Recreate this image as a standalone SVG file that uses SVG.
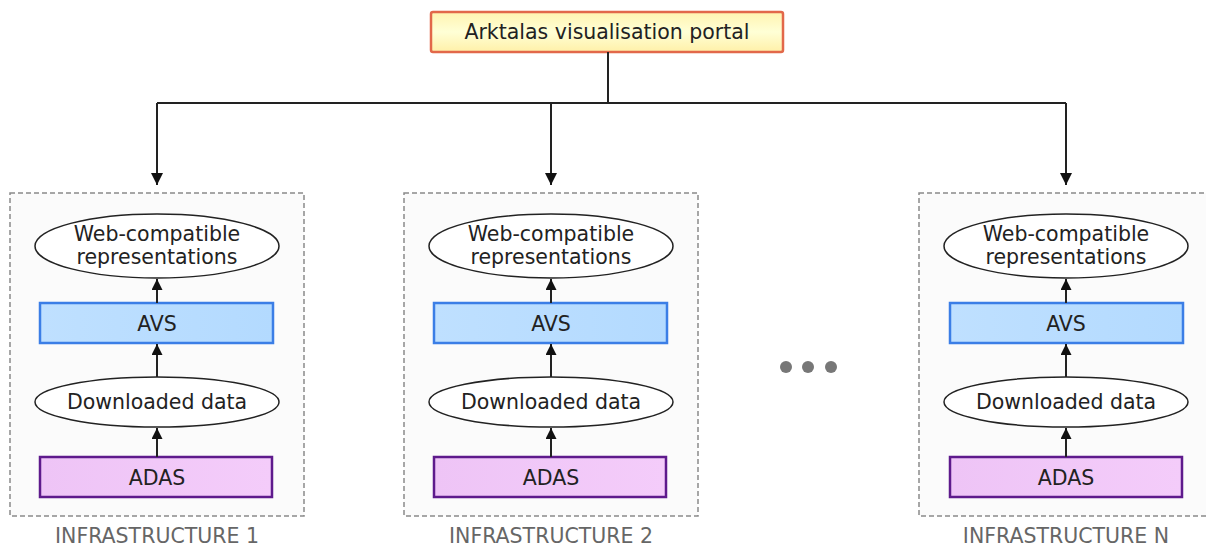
<svg xmlns="http://www.w3.org/2000/svg" width="1206" height="546" viewBox="0 0 1206 546">
<style>
text{font-family:"DejaVu Sans","Liberation Sans",sans-serif;font-size:20.5px;fill:#222;text-anchor:middle}
.panel{fill:#fbfbfb;stroke:#8a8a8a;stroke-width:1.5;stroke-dasharray:5,3}
.ell{fill:#fff;stroke:#222;stroke-width:1.5}
.avs{fill:url(#gAvs);stroke:#3b7ee6;stroke-width:2.5}
.adas{fill:url(#gAdas);stroke:#5e1a8c;stroke-width:2.5}
.cap{fill:#666;font-size:20.5px}
.con{fill:none;stroke:#222;stroke-width:2}
.dot{fill:#777}
</style>
<defs>
<linearGradient id="gPortal" x1="0" y1="0" x2="0" y2="1">
<stop offset="0" stop-color="#fff4b0"/><stop offset="0.5" stop-color="#ffffd6"/><stop offset="1" stop-color="#fff0a8"/>
</linearGradient>
<linearGradient id="gAvs" x1="0" y1="0" x2="1" y2="0">
<stop offset="0" stop-color="#bfe0ff"/><stop offset="1" stop-color="#b3daff"/>
</linearGradient>
<linearGradient id="gAdas" x1="0" y1="0" x2="1" y2="0">
<stop offset="0" stop-color="#eec4f6"/><stop offset="1" stop-color="#f4ccfa"/>
</linearGradient>
<marker id="ah" viewBox="0 0 10 10" refX="10" refY="5" markerWidth="5.5" markerHeight="5.5" orient="auto" markerUnits="strokeWidth">
<path d="M0,0 L10,5 L0,10 z" fill="#111"/>
</marker>
<marker id="ahs" viewBox="0 0 10 10" refX="10" refY="5" markerWidth="6" markerHeight="6" orient="auto" markerUnits="strokeWidth">
<path d="M0,0 L10,5 L0,10 z" fill="#111"/>
</marker>
</defs>

<g id="portal">
<rect x="431" y="12" width="352" height="40" rx="2" fill="url(#gPortal)" stroke="#e2684a" stroke-width="2.5"/>
<text x="607" y="39">Arktalas visualisation portal</text>
</g>

<g id="infra1">
<rect class="panel" x="10" y="193" width="294" height="323"/>
<ellipse class="ell" cx="157" cy="246" rx="122" ry="32"/>
<text x="157" y="241">Web-compatible</text>
<text x="157" y="264">representations</text>
<rect class="avs" x="40" y="303" width="233" height="40"/>
<text x="157" y="331">AVS</text>
<ellipse class="ell" cx="157" cy="402" rx="122" ry="25"/>
<text x="157" y="409">Downloaded data</text>
<rect class="adas" x="40" y="457" width="232" height="40"/>
<text x="157" y="485">ADAS</text>
<text class="cap" x="157" y="543">INFRASTRUCTURE 1</text>
</g>

<g id="infra2">
<rect class="panel" x="404" y="193" width="294" height="323"/>
<ellipse class="ell" cx="551" cy="246" rx="122" ry="32"/>
<text x="551" y="241">Web-compatible</text>
<text x="551" y="264">representations</text>
<rect class="avs" x="434" y="303" width="233" height="40"/>
<text x="551" y="331">AVS</text>
<ellipse class="ell" cx="551" cy="402" rx="122" ry="25"/>
<text x="551" y="409">Downloaded data</text>
<rect class="adas" x="434" y="457" width="232" height="40"/>
<text x="551" y="485">ADAS</text>
<text class="cap" x="551" y="543">INFRASTRUCTURE 2</text>
</g>

<g id="infraN">
<rect class="panel" x="919" y="193" width="294" height="323"/>
<ellipse class="ell" cx="1066" cy="246" rx="122" ry="32"/>
<text x="1066" y="241">Web-compatible</text>
<text x="1066" y="264">representations</text>
<rect class="avs" x="950" y="303" width="233" height="40"/>
<text x="1066" y="331">AVS</text>
<ellipse class="ell" cx="1066" cy="402" rx="122" ry="25"/>
<text x="1066" y="409">Downloaded data</text>
<rect class="adas" x="950" y="457" width="232" height="40"/>
<text x="1066" y="485">ADAS</text>
<text class="cap" x="1066" y="543">INFRASTRUCTURE N</text>
</g>

<g id="ellipsis">
<circle class="dot" cx="786" cy="367" r="6"/>
<circle class="dot" cx="808" cy="367" r="6"/>
<circle class="dot" cx="831" cy="367" r="6"/>
</g>

<g id="connectors">
<path class="con" d="M608,52 V103"/>
<path class="con" d="M157,103 H1066"/>
<path class="con" d="M157,103 V185" marker-end="url(#ahs)"/>
<path class="con" d="M551,103 V185" marker-end="url(#ahs)"/>
<path class="con" d="M1066,103 V185" marker-end="url(#ahs)"/>
<path class="con" d="M157,303 V279" marker-end="url(#ah)"/>
<path class="con" d="M157,377 V344" marker-end="url(#ah)"/>
<path class="con" d="M157,457 V428" marker-end="url(#ah)"/>
<path class="con" d="M551,303 V279" marker-end="url(#ah)"/>
<path class="con" d="M551,377 V344" marker-end="url(#ah)"/>
<path class="con" d="M551,457 V428" marker-end="url(#ah)"/>
<path class="con" d="M1066,303 V279" marker-end="url(#ah)"/>
<path class="con" d="M1066,377 V344" marker-end="url(#ah)"/>
<path class="con" d="M1066,457 V428" marker-end="url(#ah)"/>
</g>
</svg>
